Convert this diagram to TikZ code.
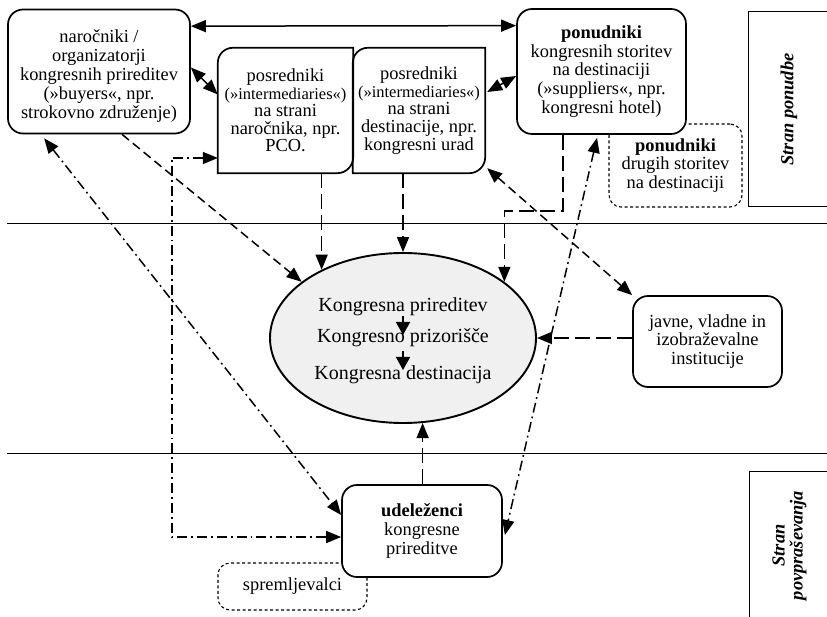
\documentclass[tikz,border=0pt]{standalone}
\usepackage{fontspec}
\setmainfont{Liberation Serif}
\usetikzlibrary{arrows.meta,calc,shapes.geometric}
\begin{document}
\begin{tikzpicture}[x=1pt,y=-1pt,
  every node/.style={font=\fontsize{18.4}{18.6}\selectfont, align=center, inner sep=0pt},
  box/.style={draw, line width=1.7pt, rounded corners=15pt, fill=white},
  dbox/.style={draw, line width=1.1pt, dash pattern=on 3pt off 2.5pt, rounded corners=12pt, fill=white},
  sidebox/.style={draw, line width=1pt, rotate=90, font=\fontsize{18.4}{18}\selectfont\bfseries\itshape},
  conn/.style={line width=1.5pt},
  ldash/.style={dash pattern=on 15pt off 6pt},
  sdash/.style={dash pattern=on 9pt off 5pt},
  ddot/.style={dash pattern=on 10pt off 4pt on 1.8pt off 4pt},
  >={Triangle[length=15pt,width=12pt]}
]
\useasboundingbox (0,0) rectangle (827,617);

% side panels
\node[sidebox, minimum width=195pt, minimum height=82pt] (S1) at (789,109.5) {Stran ponudbe};
\node[sidebox, minimum width=149pt, minimum height=81pt] (S2) at (789.5,545.5) {Stran\\povpraševanja};

% separators
\coordinate (L1a) at (7,223); \coordinate (L1b) at (827,223);
\coordinate (L2a) at (7,453); \coordinate (L2b) at (827,453);
\draw[line width=0.9pt] (L1a) -- (L1b);
\draw[line width=0.9pt] (L2a) -- (L2b);

% dashed boxes (behind)
\node[dbox, minimum width=133pt, minimum height=83pt] (P2) at (675.5,165.5) {\textbf{ponudniki}\\drugih storitev\\na destinaciji};
\node[dbox, minimum width=149pt, minimum height=47pt] (H) at (292.5,586.5) {spremljevalci};

% main boxes
\node[box, minimum width=182pt, minimum height=124pt, font=\fontsize{18.4}{19}\selectfont] (A) at (99,71.5)
  {\rule{0pt}{22pt}naročniki /\\organizatorji\\kongresnih prireditev\\(»buyers«, npr.\\strokovno združenje)};
\node[box, minimum width=169pt, minimum height=125pt] (D) at (601.5,71.5)
  {\textbf{ponudniki}\\kongresnih storitev\\na destinaciji\\(»suppliers«, npr.\\kongresni hotel)};
\node[box, minimum width=149pt, minimum height=91pt] (F) at (707.5,341.5)
  {javne, vladne in\\izobraževalne\\institucije};
\node[box, minimum width=160pt, minimum height=92pt] (G) at (422,531)
  {\textbf{udeleženci}\\kongresne\\prireditve};

% intermediaries
\node[minimum width=135pt, minimum height=125pt, font=\fontsize{18.4}{17.6}\selectfont] (B) at (285.5,110.5)
  {posredniki\\{\fontsize{16.5}{17}\selectfont(»intermediaries«)}\\na strani\\naročnika, npr.\\PCO.};
\node[minimum width=132pt, minimum height=125pt, font=\fontsize{18.4}{17.6}\selectfont] (C) at (419,110.5)
  {posredniki\\{\fontsize{16.5}{17}\selectfont(»intermediaries«)}\\na strani\\destinacije, npr.\\kongresni urad};
\foreach \n in {B,C}{
  \draw[line width=1.7pt] ([yshift=-15pt]\n.north west) .. controls ([yshift=-6.7pt]\n.north west) and ([xshift=6.7pt]\n.north west) .. ([xshift=15pt]\n.north west)
    -- (\n.north east) -- ([yshift=16pt]\n.south east) .. controls ([yshift=7.2pt]\n.south east) and ([xshift=-7.2pt]\n.south east) .. ([xshift=-16pt]\n.south east)
    -- (\n.south west) -- cycle;
}

% central ellipse
\node[draw, ellipse, line width=1.9pt, fill=gray!12, minimum width=266pt, minimum height=170pt] (K) at (403,338) {};
\node[font=\fontsize{20}{20}\selectfont, anchor=base] (k1) at (403,312) {Kongresna prireditev};
\node[font=\fontsize{20}{20}\selectfont, anchor=base] (k2) at (403,343) {Kongresno prizorišče};
\node[font=\fontsize{20}{20}\selectfont, anchor=base] (k3) at (403,380) {Kongresna destinacija};
\draw[conn, -{Triangle[length=13pt,width=14pt]}] ([yshift=-4pt]k1.base) -- ([yshift=-23pt]k1.base);
\draw[conn, -{Triangle[length=13pt,width=14pt]}] ([yshift=-8pt]k2.base) -- ([yshift=-27pt]k2.base);

% connectors
\draw[conn,<->] ([yshift=-17.5pt]A.north east) -- ([yshift=-17.5pt]D.north west);
\draw[conn,<->] ([yshift=4pt]A.east) -- ([yshift=16pt]B.west);
\draw[conn,<->] ([xshift=2pt,yshift=18.5pt]C.east) -- ([yshift=-4.5pt]D.west);
\draw[conn,ldash,->] (K.140 |- B.south) -- (K.140);
\draw[conn,ldash,->] (K.north |- C.south) -- (K.north);
\draw[conn,ldash,->] ([xshift=-38.5pt]D.south) -- ++(0,76) -| (K.29);
\draw[conn,sdash,->] ([xshift=23pt]A.south) -- (K.151);
\draw[conn,sdash,<->] ([xshift=2pt,yshift=5pt]C.south east) -- (F.north west);
\draw[conn,ldash,->] (F.west |- K.east) -- (K.east);
\draw[conn,ldash,->] (K.283 |- G.north) -- (K.283);
\draw[conn,ddot,<->] ([xshift=37pt,yshift=-4pt]A.south west) -- ([yshift=16pt]G.west);
\draw[conn,ddot,<->] ([yshift=-47.5pt]B.west) -- ++(-46,0) |- ([yshift=-6pt]G.west);
\draw[conn,ddot,<->] ([xshift=-4.5pt,yshift=-3pt]D.south) -- ([xshift=2pt,yshift=-4pt]G.east);
\end{tikzpicture}
\end{document}
